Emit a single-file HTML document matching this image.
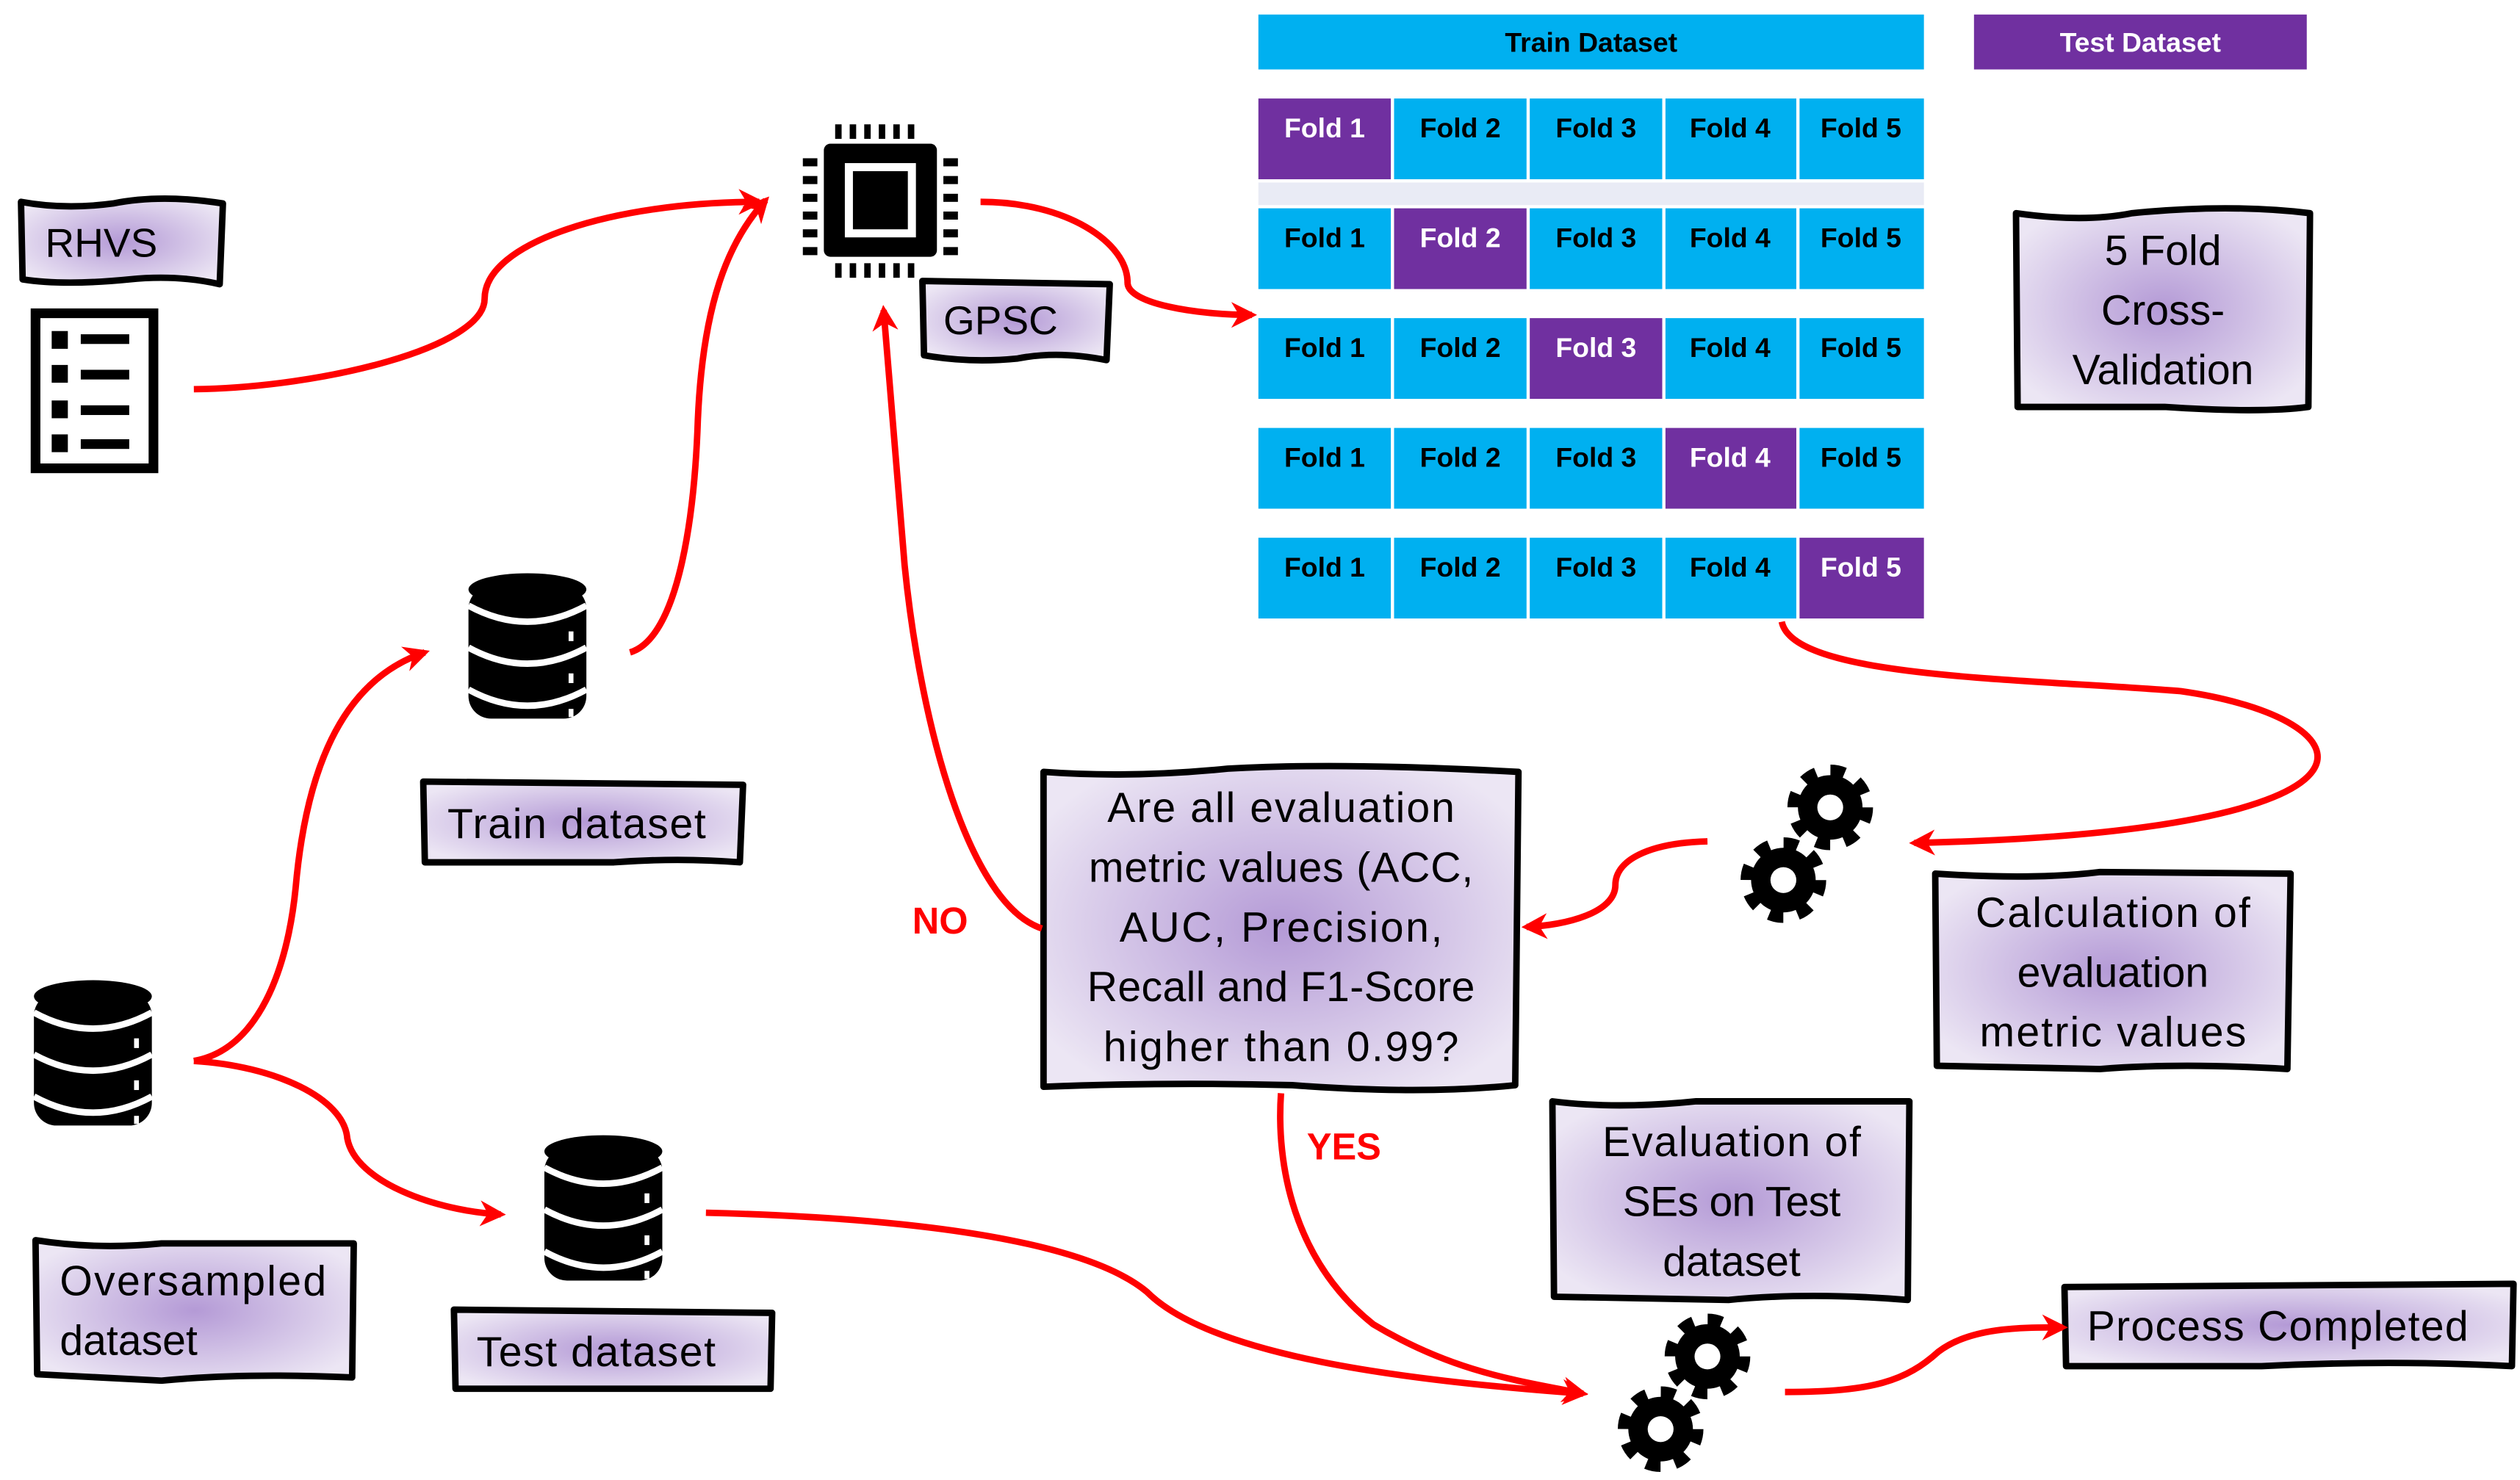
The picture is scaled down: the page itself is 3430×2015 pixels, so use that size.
<!DOCTYPE html>
<html><head><meta charset="utf-8"><style>
html,body{margin:0;padding:0;background:#fff;}
svg{display:block;}
text{font-family:"Liberation Sans",sans-serif;}
</style></head><body>
<svg width="3430" height="2015" viewBox="0 0 1560 916.5" preserveAspectRatio="none" xmlns="http://www.w3.org/2000/svg">
<defs>
<radialGradient id="lv" cx="50%" cy="50%" r="60%">
<stop offset="0" stop-color="#b49ad6"/><stop offset="1" stop-color="#ece6f4"/>
</radialGradient>
<marker id="ah" viewBox="0 0 10 10" refX="8" refY="5" markerWidth="4" markerHeight="4" orient="auto" markerUnits="strokeWidth">
<path d="M0,0 L10,5 L0,10 L3,5 z" fill="#ff0000"/>
</marker>
<g id="gear">
<circle r="22" fill="none" stroke="#000" stroke-width="9" stroke-dasharray="8.6 8.67" />
<circle r="20" fill="#000"/>
<circle r="8" fill="#fff"/>
</g>
<g id="db">
<rect x="0" y="8" width="73" height="82" rx="14" fill="#000"/>
<ellipse cx="36.5" cy="10" rx="36.5" ry="10" fill="#000"/>
<path d="M0,20 Q36.5,40 73,20" stroke="#fff" stroke-width="4" fill="none"/>
<path d="M0,46 Q36.5,66 73,46" stroke="#fff" stroke-width="4" fill="none"/>
<path d="M0,72 Q36.5,92 73,72" stroke="#fff" stroke-width="4" fill="none"/>
<rect x="62" y="36" width="3" height="6" fill="#fff"/>
<rect x="62" y="62" width="3" height="6" fill="#fff"/>
<rect x="62" y="84" width="3" height="5" fill="#fff"/>
</g>
</defs>

<rect x="779" y="9" width="412" height="34" fill="#00b0f0"/>
<text x="985" y="32" font-size="17" font-weight="bold" text-anchor="middle">Train Dataset</text>
<rect x="1222" y="9" width="206" height="34" fill="#7030a0"/>
<text x="1325" y="32" font-size="17" font-weight="bold" fill="#fff" text-anchor="middle">Test Dataset</text>
<rect x="779" y="113" width="412" height="14" fill="#e9ebf5"/>
<g font-size="17" font-weight="bold" text-anchor="middle">
<rect x="779" y="61" width="82" height="50" fill="#7030a0"/><rect x="863" y="61" width="82" height="50" fill="#00b0f0"/><rect x="947" y="61" width="82" height="50" fill="#00b0f0"/><rect x="1031" y="61" width="81" height="50" fill="#00b0f0"/><rect x="1114" y="61" width="77" height="50" fill="#00b0f0"/>
<text x="820" y="85" fill="#fff">Fold 1</text><text x="904" y="85">Fold 2</text><text x="988" y="85">Fold 3</text><text x="1071" y="85">Fold 4</text><text x="1152" y="85">Fold 5</text>
<rect x="779" y="129" width="82" height="50" fill="#00b0f0"/><rect x="863" y="129" width="82" height="50" fill="#7030a0"/><rect x="947" y="129" width="82" height="50" fill="#00b0f0"/><rect x="1031" y="129" width="81" height="50" fill="#00b0f0"/><rect x="1114" y="129" width="77" height="50" fill="#00b0f0"/>
<text x="820" y="153">Fold 1</text><text x="904" y="153" fill="#fff">Fold 2</text><text x="988" y="153">Fold 3</text><text x="1071" y="153">Fold 4</text><text x="1152" y="153">Fold 5</text>
<rect x="779" y="197" width="82" height="50" fill="#00b0f0"/><rect x="863" y="197" width="82" height="50" fill="#00b0f0"/><rect x="947" y="197" width="82" height="50" fill="#7030a0"/><rect x="1031" y="197" width="81" height="50" fill="#00b0f0"/><rect x="1114" y="197" width="77" height="50" fill="#00b0f0"/>
<text x="820" y="221">Fold 1</text><text x="904" y="221">Fold 2</text><text x="988" y="221" fill="#fff">Fold 3</text><text x="1071" y="221">Fold 4</text><text x="1152" y="221">Fold 5</text>
<rect x="779" y="265" width="82" height="50" fill="#00b0f0"/><rect x="863" y="265" width="82" height="50" fill="#00b0f0"/><rect x="947" y="265" width="82" height="50" fill="#00b0f0"/><rect x="1031" y="265" width="81" height="50" fill="#7030a0"/><rect x="1114" y="265" width="77" height="50" fill="#00b0f0"/>
<text x="820" y="289">Fold 1</text><text x="904" y="289">Fold 2</text><text x="988" y="289">Fold 3</text><text x="1071" y="289" fill="#fff">Fold 4</text><text x="1152" y="289">Fold 5</text>
<rect x="779" y="333" width="82" height="50" fill="#00b0f0"/><rect x="863" y="333" width="82" height="50" fill="#00b0f0"/><rect x="947" y="333" width="82" height="50" fill="#00b0f0"/><rect x="1031" y="333" width="81" height="50" fill="#00b0f0"/><rect x="1114" y="333" width="77" height="50" fill="#7030a0"/>
<text x="820" y="357">Fold 1</text><text x="904" y="357">Fold 2</text><text x="988" y="357">Fold 3</text><text x="1071" y="357">Fold 4</text><text x="1152" y="357" fill="#fff">Fold 5</text>
</g>

<g fill="url(#lv)" stroke="#000" stroke-width="4" stroke-linejoin="round">
<path d="M13,125 Q40,130 70,126 Q100,120 138,126 L136,176 Q110,170 80,173 Q40,177 14,173 Z"/>
<path d="M571,174 L687,176 L685,223 Q655,217 630,222 Q600,225 572,220 Z"/>
<path d="M1248,132 Q1290,138 1320,132 Q1380,126 1430,132 L1429,252 Q1400,256 1340,252 L1249,252 Z"/>
<path d="M262,484 L460,486 L458,534 Q420,531 380,534 L263,534 Z"/>
<path d="M22,768 Q60,774 100,770 L219,770 L218,853 Q150,850 100,855 L23,851 Z"/>
<path d="M281,811 L478,813 L477,860 L282,860 Z"/>
<path d="M646,478 Q700,482 760,476 Q830,472 940,478 L938,672 Q880,678 800,672 Q720,670 646,673 Z"/>
<path d="M1198,541 Q1260,545 1300,540 L1418,541 L1416,662 Q1350,658 1300,662 L1199,660 Z"/>
<path d="M961,682 Q1000,687 1050,682 L1182,682 L1181,805 Q1120,800 1070,805 L962,803 Z"/>
<path d="M1278,797 L1556,795 L1555,846 Q1480,842 1400,846 L1279,846 Z"/>
</g>
<g font-size="26" fill="#000">
<text x="28" y="159" font-size="25">RHVS</text>
<text x="584" y="207" font-size="25">GPSC</text>
<text x="1339" y="164" text-anchor="middle">5 Fold</text>
<text x="1339" y="201" text-anchor="middle">Cross-</text>
<text x="1339" y="238" text-anchor="middle">Validation</text>
<text x="357" y="519" text-anchor="middle" textLength="160">Train dataset</text>
<text x="37" y="802" textLength="165">Oversampled</text>
<text x="37" y="839">dataset</text>
<text x="295" y="846" textLength="148">Test dataset</text>
<g text-anchor="middle">
<text x="793" y="509" textLength="215">Are all evaluation</text>
<text x="793" y="546" textLength="238">metric values (ACC,</text>
<text x="793" y="583" textLength="200">AUC, Precision,</text>
<text x="793" y="620" textLength="240">Recall and F1-Score</text>
<text x="793" y="657" textLength="220">higher than 0.99?</text>
<text x="1308" y="574" textLength="170">Calculation of</text>
<text x="1308" y="611">evaluation</text>
<text x="1308" y="648" textLength="165">metric values</text>
<text x="1072" y="716" textLength="160">Evaluation of</text>
<text x="1072" y="753" textLength="135">SEs on Test</text>
<text x="1072" y="790">dataset</text>
<text x="1410" y="830" textLength="236">Process Completed</text>
</g>
</g>
<text x="582" y="578" font-size="23" font-weight="bold" fill="#ff0000" text-anchor="middle">NO</text>
<text x="832" y="718" font-size="23" font-weight="bold" fill="#ff0000" text-anchor="middle">YES</text>

<rect x="22" y="194" width="73" height="96" fill="#fff" stroke="#000" stroke-width="6"/>
<g fill="#000">
<rect x="32" y="205" width="10" height="11"/><rect x="50" y="207" width="30" height="6"/>
<rect x="32" y="226" width="10" height="11"/><rect x="50" y="229" width="30" height="6"/>
<rect x="32" y="248" width="10" height="11"/><rect x="50" y="251" width="30" height="6"/>
<rect x="32" y="269" width="10" height="11"/><rect x="50" y="272" width="30" height="6"/>
</g>

<rect x="510" y="89" width="70" height="70" rx="4" fill="#000"/>
<rect x="523" y="101" width="44" height="46" fill="#fff"/>
<rect x="528" y="106" width="34" height="36" fill="#000"/>
<g fill="#000">
<rect x="517" y="77" width="4" height="9"/><rect x="526" y="77" width="4" height="9"/><rect x="535" y="77" width="4" height="9"/><rect x="544" y="77" width="4" height="9"/><rect x="553" y="77" width="4" height="9"/><rect x="562" y="77" width="4" height="9"/>
<rect x="517" y="163" width="4" height="9"/><rect x="526" y="163" width="4" height="9"/><rect x="535" y="163" width="4" height="9"/><rect x="544" y="163" width="4" height="9"/><rect x="553" y="163" width="4" height="9"/><rect x="562" y="163" width="4" height="9"/>
<rect x="497" y="98" width="9" height="5"/><rect x="497" y="109" width="9" height="5"/><rect x="497" y="120" width="9" height="5"/><rect x="497" y="131" width="9" height="5"/><rect x="497" y="142" width="9" height="5"/><rect x="497" y="153" width="9" height="5"/>
<rect x="584" y="98" width="9" height="5"/><rect x="584" y="109" width="9" height="5"/><rect x="584" y="120" width="9" height="5"/><rect x="584" y="131" width="9" height="5"/><rect x="584" y="142" width="9" height="5"/><rect x="584" y="153" width="9" height="5"/>
</g>

<use href="#db" x="290" y="355"/>
<use href="#db" x="21" y="607"/>
<use href="#db" x="337" y="703"/>

<use href="#gear" x="1133" y="500"/>
<use href="#gear" x="1104" y="545"/>
<use href="#gear" x="1057" y="840"/>
<use href="#gear" x="1028" y="885"/>

<g fill="none" stroke="#ff0000" stroke-width="4" marker-end="url(#ah)">
<path d="M120,241 C200,240 300,215 300,185 C300,150 380,125 470,125"/>
<path d="M390,404 C420,395 430,320 432,260 C435,190 450,150 474,124"/>
<path d="M607,125 C660,125 698,150 698,175 C698,188 740,195 775,195"/>
<path d="M1103,385 C1110,420 1250,420 1350,428 C1470,445 1500,515 1185,522"/>
<path d="M1057,521 C1020,522 1000,533 1000,548 C1000,565 970,573 945,574"/>
<path d="M645,575 C600,560 570,450 560,350 L547,192"/>
<path d="M120,657 C160,650 178,600 183,550 C190,470 215,420 263,404"/>
<path d="M120,657 C170,660 213,680 215,705 C220,732 270,750 310,752"/>
<path d="M437,751 C600,755 680,775 710,800 C750,840 870,855 980,863"/>
<path d="M793,677 C790,720 800,780 850,820 C900,850 940,855 980,863"/>
<path d="M1105,862 C1160,862 1180,855 1200,837 C1220,822 1250,822 1277,822"/>
</g>
</svg>
</body></html>
